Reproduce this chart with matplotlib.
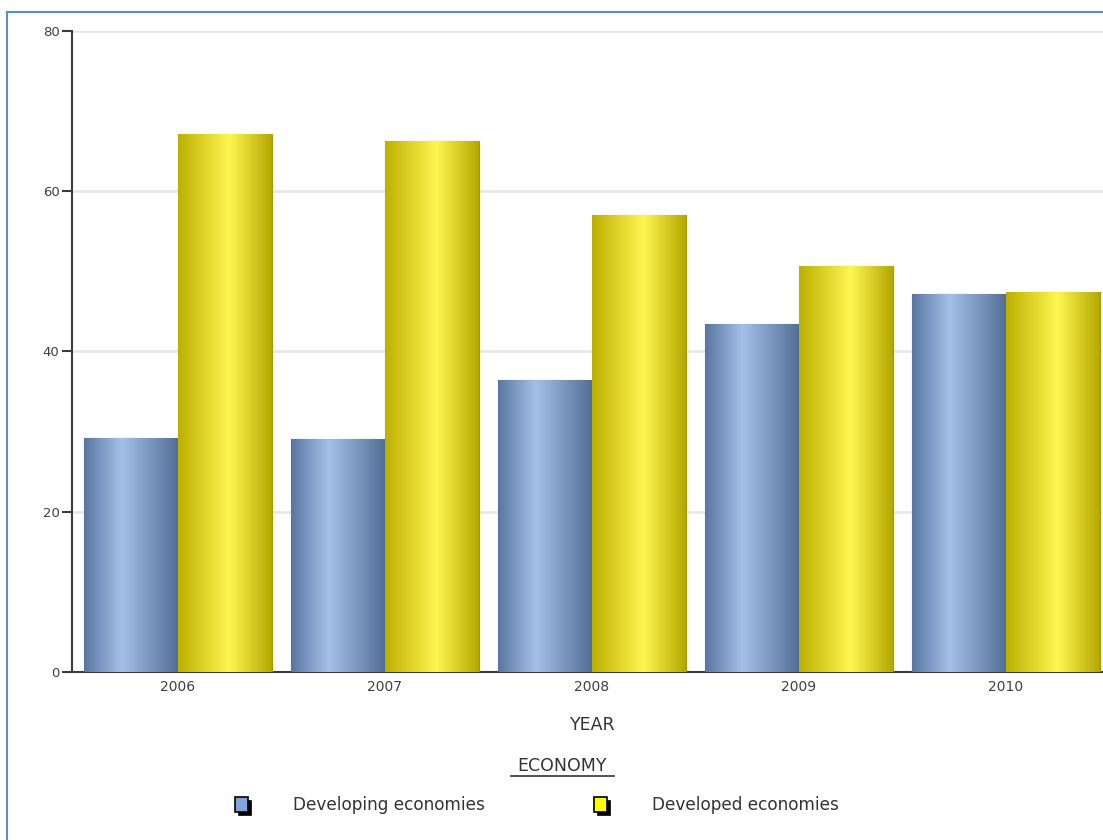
import numpy as np
import matplotlib
matplotlib.use("Agg")
import matplotlib.pyplot as plt
from matplotlib.colors import LinearSegmentedColormap
from matplotlib.lines import Line2D
from matplotlib.patches import Rectangle

plt.rcParams["font.family"] = ["DejaVu Sans"]

years = ["2006", "2007", "2008", "2009", "2010"]
developing = [29.2, 29.1, 36.4, 43.4, 47.2]
developed = [67.1, 66.3, 57.0, 50.7, 47.4]
series_names = ["Developing economies", "Developed economies"]

# cylinder-like shading for each series
blue_cmap = LinearSegmentedColormap.from_list(
    "blue_bar", [(0, "#5876a0"), (0.4, "#a3c1e8"), (1, "#536f96")])
yellow_cmap = LinearSegmentedColormap.from_list(
    "yellow_bar", [(0, "#bcb000"), (0.55, "#fff652"), (1, "#b4a800")])

fig = plt.figure(figsize=(11.03, 8.4), dpi=100)
ax = fig.add_axes([72 / 1103, 0.2, 1 - 72 / 1103, 1 - 0.2 - 31 / 840])

x = np.arange(len(years))
w = 0.454
bars1 = ax.bar(x - w / 2, developing, w, color="#8aa8d0", edgecolor="#4d6a90",
               linewidth=0.8, zorder=3)
bars2 = ax.bar(x + w / 2, developed, w, color="#f0e840", edgecolor="#a09800",
               linewidth=0.8, zorder=3)

grad = np.linspace(0, 1, 256).reshape(1, -1)
for bars, cmap in [(bars1, blue_cmap), (bars2, yellow_cmap)]:
    for b in bars:
        bx, by = b.get_x(), b.get_y()
        im = ax.imshow(grad, cmap=cmap, aspect="auto", interpolation="bilinear",
                       extent=[bx, bx + b.get_width(), by, by + b.get_height()],
                       zorder=3.5)
        im.set_clip_path(b)

ax.set_xlim(-0.512, 4.469)
ax.set_ylim(0, 80)
ax.set_yticks([0, 20, 40, 60, 80])
ax.set_xticks(x)
ax.set_xticklabels(years)
ax.grid(axis="y", color="#e6e6e6", linewidth=1.8, zorder=0)
ax.set_axisbelow(True)

for s in ["top", "right"]:
    ax.spines[s].set_visible(False)
for s in ["left", "bottom"]:
    ax.spines[s].set_color("#3c3c3c")
    ax.spines[s].set_linewidth(1.5)
ax.tick_params(axis="y", length=7, width=1.5, color="#3c3c3c",
               labelsize=9.5, labelcolor="#404040", pad=2)
ax.tick_params(axis="x", length=0, labelsize=10, labelcolor="#404040", pad=6)

fig.text(0.537, 1 - 725 / 840, "YEAR", ha="center", va="center",
         fontsize=12.5, color="#333333")
fig.text(0.5095, 1 - 766 / 840, "ECONOMY", ha="center", va="center",
         fontsize=12.5, color="#333333")
fig.add_artist(Line2D([511 / 1103, 614 / 1103], [1 - 776 / 840] * 2,
                      color="#333333", linewidth=1.2))

# legend entries with drop-shadow markers
marker_x = [235, 594]
for mx, name, col in zip(marker_x, series_names, ["#7ea6dc", "#ffff00"]):
    fig.add_artist(Rectangle(((mx + 3) / 1103, 1 - 815 / 840), 13 / 1103, 15 / 840,
                             facecolor="black", edgecolor="black", linewidth=0.5))
    fig.add_artist(Rectangle((mx / 1103, 1 - 812 / 840), 13 / 1103, 15 / 840,
                             facecolor=col, edgecolor="black", linewidth=1.2))
    fig.text((mx + 58) / 1103, 1 - 805 / 840, name, ha="left", va="center",
             fontsize=12.2, color="#333333")

# outer frame (left and top edges)
fig.add_artist(Line2D([7 / 1103, 7 / 1103], [0, 1 - 12 / 840], color="#5b8bd0", linewidth=1.5))
fig.add_artist(Line2D([7 / 1103, 1], [1 - 12 / 840] * 2, color="#5b8bd0", linewidth=1.5))

fig.savefig("out.png", dpi=100)
